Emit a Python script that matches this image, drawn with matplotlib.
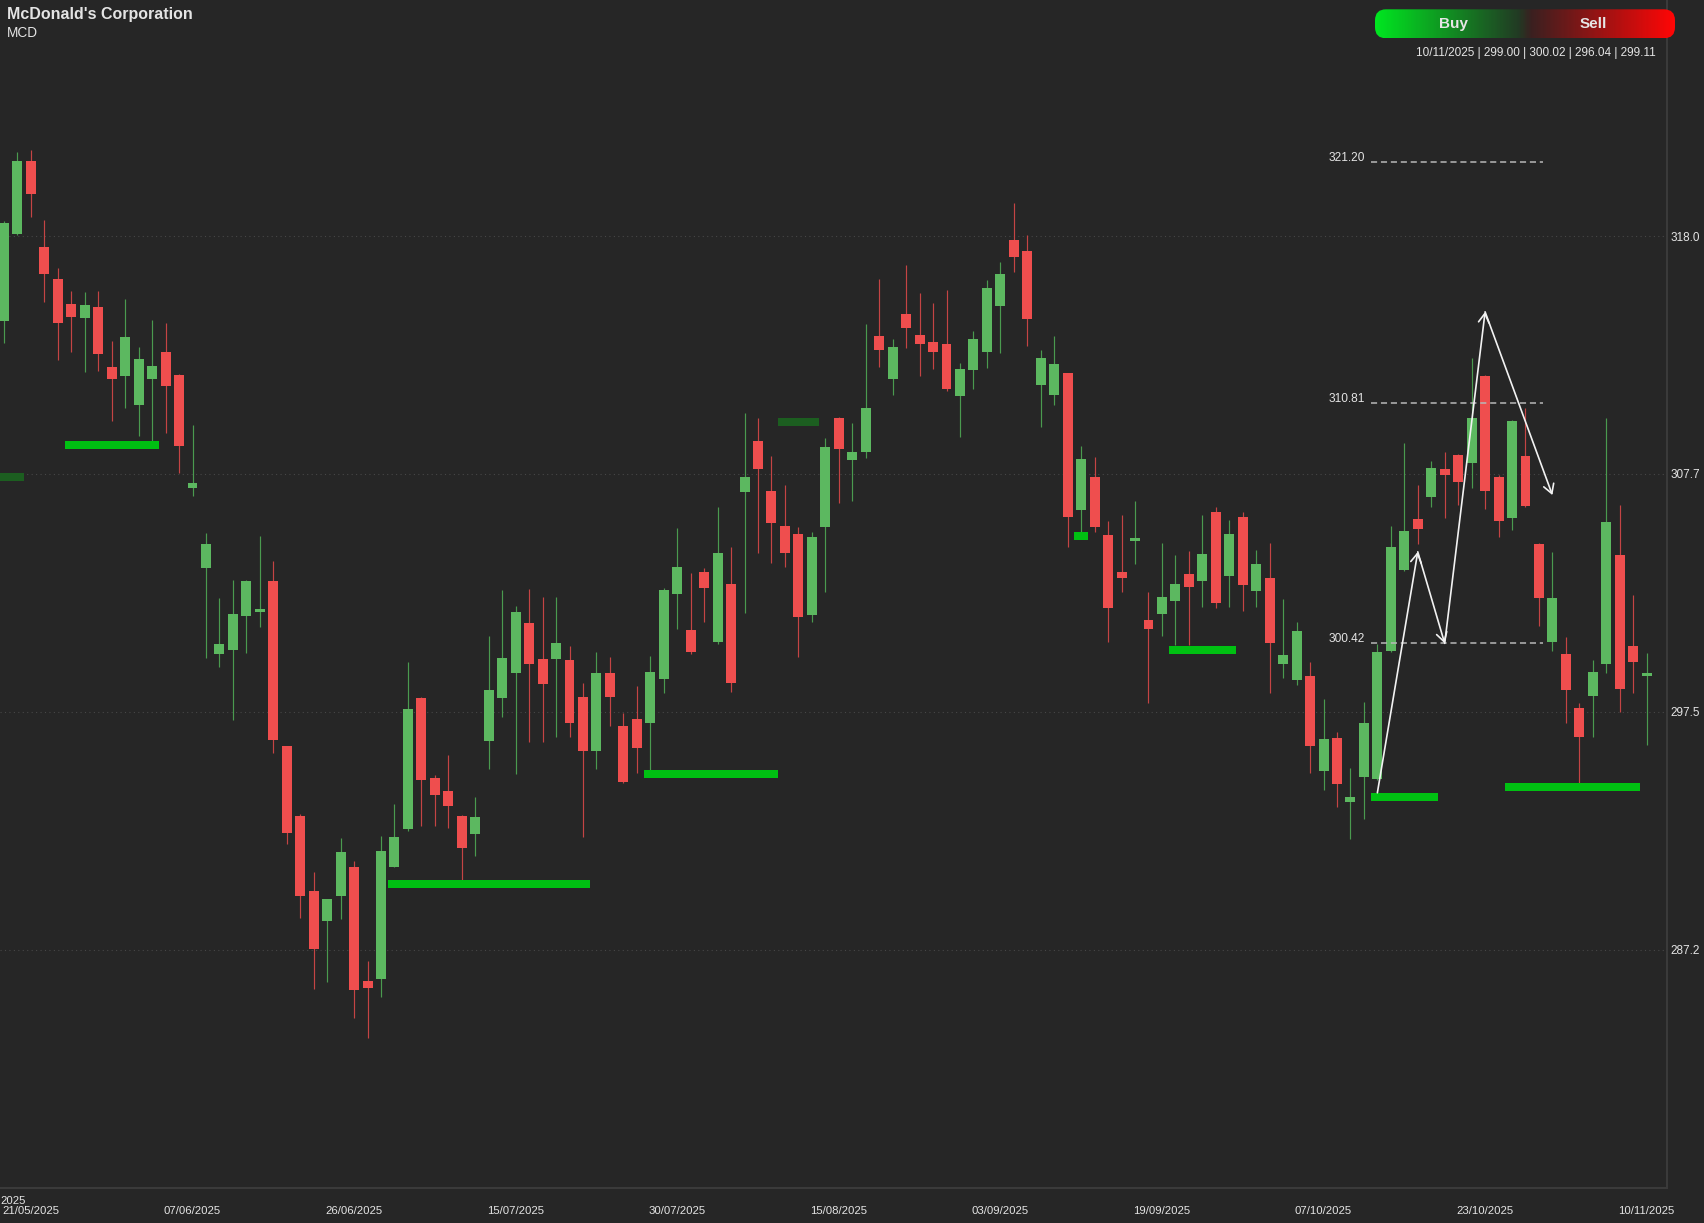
import matplotlib
matplotlib.use("Agg")
import matplotlib.pyplot as plt
import numpy as np
from matplotlib.colors import LinearSegmentedColormap
from matplotlib.patches import FancyBboxPatch

plt.rcParams['font.family'] = ['Liberation Sans', 'DejaVu Sans']

# daily OHLC, one candle per trading day (last one is 10/11/2025)
opens = [314.34, 318.09, 321.24, 317.54, 316.13, 315.07, 314.47, 314.95, 312.36, 311.97,
         310.69, 311.82, 313.01, 312.00, 307.11, 303.67, 299.96, 300.12, 301.61, 301.77,
         303.13, 295.97, 292.97, 289.71, 288.44, 289.51, 290.78, 285.86, 285.92, 290.78,
         292.41, 298.05, 294.62, 294.06, 292.97, 292.17, 296.21, 298.08, 299.13, 301.28,
         299.73, 299.73, 299.70, 298.09, 295.79, 299.15, 296.87, 297.14, 296.99, 298.89,
         302.54, 300.99, 303.49, 300.46, 302.98, 306.96, 309.15, 306.99, 305.48, 305.14,
         301.64, 305.45, 310.16, 308.34, 308.67, 313.67, 311.85, 314.62, 313.71, 313.42,
         313.35, 311.09, 312.21, 313.01, 315.00, 317.83, 317.36, 311.56, 311.16, 312.08,
         306.17, 307.58, 305.10, 303.50, 304.85, 301.43, 301.67, 302.26, 303.40, 303.11,
         306.10, 303.33, 305.86, 302.69, 303.25, 299.53, 298.84, 299.01, 294.92, 296.35,
         293.56, 294.64, 294.55, 300.10, 303.58, 305.77, 306.75, 307.93, 308.55, 308.19,
         311.96, 307.61, 305.84, 308.52, 304.69, 300.46, 299.96, 297.62, 298.15, 299.51,
         304.23, 300.30, 299.00]
highs = [318.66, 321.61, 321.71, 318.69, 316.61, 315.64, 315.60, 315.64, 313.48, 315.28,
         313.22, 314.37, 314.26, 312.05, 309.84, 305.19, 302.36, 303.16, 303.16, 305.07,
         303.99, 296.00, 293.05, 290.54, 289.40, 292.03, 291.02, 286.71, 292.11, 293.50,
         299.61, 298.10, 294.74, 295.62, 293.00, 293.77, 300.73, 302.73, 302.03, 302.75,
         302.41, 302.41, 300.32, 298.72, 300.03, 299.84, 297.43, 298.59, 299.87, 302.80,
         305.38, 303.44, 303.66, 306.29, 304.56, 310.37, 310.13, 308.50, 307.25, 305.45,
         305.24, 309.27, 310.20, 309.95, 314.19, 316.15, 313.57, 316.77, 315.54, 315.10,
         315.68, 312.50, 313.89, 316.12, 316.88, 319.43, 318.04, 313.08, 313.68, 312.10,
         308.92, 308.46, 305.69, 305.95, 306.56, 302.62, 304.77, 304.23, 304.40, 305.96,
         306.32, 305.74, 306.07, 304.45, 304.74, 302.32, 301.33, 299.60, 298.00, 296.58,
         295.05, 297.90, 300.39, 305.48, 309.05, 307.25, 308.30, 308.66, 308.60, 312.75,
         312.00, 307.68, 310.06, 310.56, 304.75, 304.35, 300.68, 297.86, 299.70, 310.13,
         306.39, 302.51, 300.02]
lows = [313.37, 318.03, 318.83, 315.16, 312.65, 313.01, 312.14, 312.19, 310.03, 310.56,
        309.38, 309.12, 309.48, 307.76, 306.79, 299.80, 299.41, 297.12, 300.01, 301.12,
        295.70, 291.74, 288.55, 285.48, 285.79, 288.50, 284.24, 283.39, 285.16, 290.75,
        292.30, 292.54, 292.54, 292.43, 290.22, 291.26, 294.98, 297.25, 294.78, 296.15,
        296.17, 296.39, 296.39, 292.07, 295.00, 296.85, 294.38, 294.84, 294.95, 298.26,
        301.04, 299.96, 301.33, 300.40, 298.33, 301.72, 304.31, 303.87, 303.73, 299.84,
        301.35, 302.65, 306.46, 306.56, 308.43, 312.37, 311.16, 313.16, 311.96, 312.25,
        311.33, 309.33, 311.41, 312.29, 312.95, 316.45, 313.24, 309.74, 310.69, 304.59,
        305.18, 305.22, 300.46, 302.65, 303.86, 297.84, 300.73, 300.36, 300.36, 301.97,
        301.93, 301.97, 301.83, 301.97, 298.26, 298.91, 298.62, 294.84, 294.09, 293.37,
        291.98, 292.83, 294.50, 300.06, 303.55, 304.69, 306.29, 305.82, 306.39, 307.11,
        306.20, 305.00, 305.31, 306.30, 301.17, 300.09, 296.97, 294.40, 296.36, 299.15,
        297.47, 298.29, 296.04]
closes = [318.57, 321.25, 319.80, 316.36, 314.26, 314.52, 315.02, 312.91, 311.83, 313.65,
          312.68, 312.39, 311.53, 308.94, 307.33, 304.72, 300.41, 301.67, 303.13, 301.88,
          296.26, 292.25, 289.51, 287.24, 289.38, 291.42, 285.47, 285.56, 291.45, 292.06,
          297.57, 294.53, 293.87, 293.42, 291.58, 292.94, 298.40, 299.80, 301.79, 299.51,
          298.66, 300.45, 296.97, 295.79, 299.13, 298.12, 294.45, 295.89, 299.20, 302.72,
          303.73, 300.03, 302.82, 304.33, 298.69, 307.61, 307.93, 305.60, 304.33, 301.57,
          305.02, 308.88, 308.81, 308.68, 310.57, 313.08, 313.20, 314.03, 313.35, 312.98,
          311.38, 312.25, 313.57, 315.76, 316.38, 317.10, 314.44, 312.73, 312.47, 305.88,
          308.36, 305.44, 301.94, 303.25, 304.96, 301.05, 302.43, 302.99, 302.87, 304.26,
          302.17, 305.14, 302.94, 303.83, 300.45, 299.92, 300.96, 295.99, 296.29, 294.34,
          293.80, 296.97, 300.06, 304.56, 305.28, 305.34, 307.97, 307.68, 307.40, 310.13,
          307.01, 305.70, 310.02, 306.35, 302.39, 302.36, 298.41, 296.39, 299.17, 305.64,
          298.45, 299.60, 299.11]
last_date = '10/11/2025'

# date labels, one every 12 candles counting back from the last one
xtick_pos = [2, 14, 26, 38, 50, 62, 74, 86, 98, 110, 122]
xtick_labels = ['21/05/2025', '07/06/2025', '26/06/2025', '15/07/2025', '30/07/2025',
                '15/08/2025', '03/09/2025', '19/09/2025', '07/10/2025', '23/10/2025',
                '10/11/2025']
ytick_vals = [318.0, 307.73, 297.46, 287.19]
ytick_labels = ['318.0', '307.7', '297.5', '287.2']

# support zones (price level, first / last candle span)
zone_levels = [307.60, 308.98, 290.05, 294.79, 309.97, 305.06, 300.14, 293.79, 294.22]
zone_starts = [-1.0, 4.5, 28.5, 47.5, 57.5, 79.5, 86.5, 101.5, 111.5]
zone_ends = [1.5, 11.5, 43.5, 57.5, 60.5, 80.5, 91.5, 106.5, 121.5]
zone_strong = [False, True, True, True, False, True, True, True, True]

# projection levels and the zig-zag swing path
proj_levels = [321.20, 310.81, 300.42]
proj_start, proj_end = 101.5, 114.3
swing_x = [102, 105, 107, 110, 115]
swing_y = [293.97, 304.37, 300.42, 314.73, 306.82]

BG = '#262626'
TXT = '#e4e4e4'
UP, DOWN = '#5cb860', '#ef4e4e'
UP_WICK, DOWN_WICK = '#4a9a4f', '#c44444'

fig = plt.figure(figsize=(17.04, 12.23), dpi=100, facecolor=BG)
ax = fig.add_axes([0, 1 - 1188 / 1223, 1667 / 1704, 1188 / 1223])
ax.set_facecolor(BG)

x = np.arange(len(opens))
o = np.array(opens)
c = np.array(closes)
up = c >= o

ax.vlines(x, lows, highs, colors=np.where(up, UP_WICK, DOWN_WICK), lw=0.85, zorder=2)
body_lo = np.minimum(o, c)
body_h = np.maximum(np.abs(c - o), 0.12)
ax.bar(x, body_h, bottom=body_lo, width=0.74, color=np.where(up, UP, DOWN),
       linewidth=0, zorder=3)

zone_colors = ['#00c012' if s else '#1c5e20' for s in zone_strong]
ax.barh(zone_levels, np.array(zone_ends) - np.array(zone_starts), left=zone_starts,
        height=0.34, color=zone_colors, linewidth=0, zorder=4)

ax.hlines(proj_levels, proj_start, proj_end, colors='#b8b8b8',
          linestyles=[(0, (4, 2.5))], lw=1.1, zorder=5)
for lvl in proj_levels:
    ax.text(proj_start - 0.4, lvl + 0.17, f'{lvl:.2f}', ha='right', va='center',
            fontsize=8.6, color=TXT, zorder=6)

for i in range(len(swing_x) - 1):
    ax.annotate('', xy=(swing_x[i + 1], swing_y[i + 1]), xytext=(swing_x[i], swing_y[i]),
                arrowprops=dict(arrowstyle='->,head_length=0.65,head_width=0.38',
                                color='#f2f2f2', lw=1.2, shrinkA=0, shrinkB=0,
                                mutation_scale=10),
                zorder=7)

ax.set_xlim(-0.297, 123.51)
ax.set_ylim(276.91, 328.19)

ax.yaxis.tick_right()
ax.set_yticks(ytick_vals)
ax.set_yticklabels(ytick_labels)
ax.set_xticks(xtick_pos)
ax.set_xticklabels(xtick_labels)
ax.tick_params(axis='y', length=0, pad=2.5, labelsize=8.5, labelcolor=TXT)
ax.tick_params(axis='x', length=0, pad=13, labelsize=8.2, labelcolor=TXT)
ax.grid(axis='y', color='#474747', linestyle=(0, (1, 3)), lw=0.8)
ax.set_axisbelow(True)
for side in ['left', 'top']:
    ax.spines[side].set_visible(False)
for side in ['right', 'bottom']:
    ax.spines[side].set_color('#3a3a3a')
    ax.spines[side].set_linewidth(1.5)

# header
fig.text(7 / 1704, 1 - 19.5 / 1223, "McDonald's Corporation", fontsize=11.5,
         weight='bold', color=TXT, va='baseline')
fig.text(7 / 1704, 1 - 37.3 / 1223, 'MCD', fontsize=9.8, color=TXT, va='baseline')
fig.text(0, 1 - 1201 / 1223, '2025', fontsize=8.2, color=TXT, va='center', ha='left')

# buy / sell gauge
pill = fig.add_axes([1375 / 1704, 1 - 38.3 / 1223, 300 / 1704, 29 / 1223])
pill.set_xlim(0, 300)
pill.set_ylim(0, 29)
pill.axis('off')
cmap = LinearSegmentedColormap.from_list(
    'buysell', [(0, '#00e620'), (0.48, '#223a24'), (0.52, '#3a2020'), (1, '#ff0606')])
img = pill.imshow(np.linspace(0, 1, 300).reshape(1, -1), extent=[0, 300, 0, 29],
                  aspect='auto', cmap=cmap)
shape = FancyBboxPatch((0, 0), 300, 29, boxstyle='round,pad=0,rounding_size=11',
                       transform=pill.transData, facecolor='none', edgecolor='none')
pill.add_patch(shape)
img.set_clip_path(shape)
pill.text(78, 14.5, 'Buy', ha='center', va='center', fontsize=11, weight='bold',
          color='#e6e6e6')
pill.text(218, 14.5, 'Sell', ha='center', va='center', fontsize=11, weight='bold',
          color='#e6e6e6')

summary = f'{last_date} | {opens[-1]:.2f} | {highs[-1]:.2f} | {lows[-1]:.2f} | {closes[-1]:.2f}'
fig.text(1656 / 1704, 1 - 52.7 / 1223, summary, ha='right', va='center',
         fontsize=8.5, color=TXT)

fig.savefig('out.png', dpi=100, facecolor=BG)
